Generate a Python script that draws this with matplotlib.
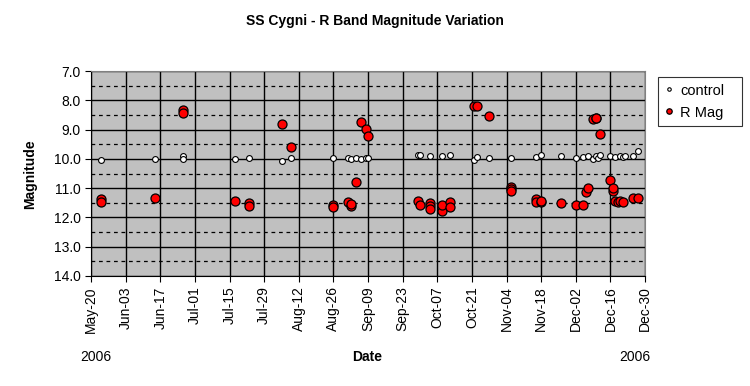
import numpy as np
import pandas as pd
import matplotlib
matplotlib.use("Agg")
from matplotlib import pyplot as plt
import matplotlib.dates as mdates
from matplotlib.ticker import MultipleLocator, FormatStrFormatter

plt.rcParams['font.family'] = ['Liberation Sans', 'DejaVu Sans']

# control star readings
control_dates = ["2006-05-24", "2006-06-15", "2006-06-26", "2006-06-26", "2006-07-17",
                 "2006-07-23", "2006-08-05", "2006-08-09", "2006-08-26", "2006-09-01",
                 "2006-09-02", "2006-09-04", "2006-09-06", "2006-09-08", "2006-09-09",
                 "2006-09-29", "2006-09-30", "2006-10-04", "2006-10-09", "2006-10-12",
                 "2006-10-22", "2006-10-23", "2006-10-28", "2006-11-06", "2006-11-16",
                 "2006-11-18", "2006-11-26", "2006-12-02", "2006-12-05", "2006-12-07",
                 "2006-12-09", "2006-12-10", "2006-12-11", "2006-12-12", "2006-12-16",
                 "2006-12-18", "2006-12-20", "2006-12-21", "2006-12-22", "2006-12-25",
                 "2006-12-27"]
control_mag = [10.03, 10.01, 9.91, 10.02, 9.99,
               9.96, 10.08, 9.98, 9.97, 9.98,
               10.00, 9.98, 10.02, 9.98, 9.98,
               9.86, 9.86, 9.89, 9.89, 9.86,
               10.03, 9.94, 9.96, 9.96, 9.92,
               9.86, 9.91, 9.97, 9.93, 9.89,
               10.01, 9.91, 9.98, 9.86, 9.89,
               9.93, 9.89, 9.93, 9.91, 9.89,
               9.74]

# SS Cyg R band readings
rmag_dates = ["2006-05-24", "2006-05-24", "2006-06-15", "2006-06-26", "2006-06-26",
              "2006-07-17", "2006-07-23", "2006-07-23", "2006-08-05", "2006-08-09",
              "2006-08-26", "2006-08-26", "2006-09-01", "2006-09-02", "2006-09-02",
              "2006-09-04", "2006-09-06", "2006-09-08", "2006-09-09", "2006-09-29",
              "2006-09-30", "2006-10-04", "2006-10-04", "2006-10-04", "2006-10-09",
              "2006-10-09", "2006-10-12", "2006-10-12", "2006-10-22", "2006-10-23",
              "2006-10-28", "2006-11-06", "2006-11-06", "2006-11-06", "2006-11-16",
              "2006-11-16", "2006-11-18", "2006-11-18", "2006-11-26", "2006-12-02",
              "2006-12-05", "2006-12-06", "2006-12-07", "2006-12-09", "2006-12-10",
              "2006-12-10", "2006-12-12", "2006-12-16", "2006-12-17", "2006-12-17",
              "2006-12-18", "2006-12-19", "2006-12-20", "2006-12-21", "2006-12-25",
              "2006-12-27"]
rmag_mag = [11.37, 11.49, 11.35, 8.34, 8.43,
            11.43, 11.52, 11.60, 8.80, 9.61,
            11.57, 11.64, 11.49, 11.60, 11.55,
            10.80, 8.74, 8.99, 9.23, 11.43,
            11.57, 11.51, 11.60, 11.72, 11.78,
            11.57, 11.46, 11.64, 8.20, 8.20,
            8.53, 10.97, 11.04, 11.11, 11.37,
            11.49, 11.49, 11.43, 11.52, 11.57,
            11.57, 11.12, 11.00, 8.65, 8.62,
            8.60, 9.14, 10.71, 11.11, 10.98,
            11.43, 11.48, 11.43, 11.47, 11.34,
            11.34]

start = pd.Timestamp("2006-05-20")
end = pd.Timestamp("2006-12-30")
tick_dates = pd.date_range(start, end, freq="14D")

fig = plt.figure(figsize=(7.5, 3.86), dpi=100)
ax = fig.add_axes([0.1215, 0.285, 0.7385, 0.531])
ax.set_facecolor("#C0C0C0")

ax.plot(pd.to_datetime(control_dates), control_mag, 'o', ms=4.2, mfc='white',
        mec='black', mew=0.8, label="control", zorder=3)
ax.plot(pd.to_datetime(rmag_dates), rmag_mag, 'o', ms=6.5, mfc='red',
        mec='black', mew=0.9, label="R Mag", zorder=4)

ax.set_xlim(start, end)
ax.set_ylim(14.0, 7.0)
ax.set_xticks(tick_dates)
ax.xaxis.set_major_formatter(mdates.DateFormatter("%b-%d"))
ax.yaxis.set_major_locator(MultipleLocator(1.0))
ax.yaxis.set_minor_locator(MultipleLocator(0.5))
ax.yaxis.set_major_formatter(FormatStrFormatter("%.1f"))

ax.grid(True, which='major', color='black', lw=1.0)
ax.grid(True, which='minor', axis='y', color='black', lw=0.9, ls=(0, (3, 3)))
ax.set_axisbelow(True)
ax.tick_params(axis='x', rotation=90, labelsize=10, direction='out', length=4, color='black')
ax.tick_params(axis='y', labelsize=10, direction='out', length=4)
ax.tick_params(axis='y', which='minor', length=0)
for s in ['top', 'right']:
    ax.spines[s].set_color('#808080')
for s in ['left', 'bottom']:
    ax.spines[s].set_color('black')

fig.text(0.5, 0.946, "SS Cygni - R Band Magnitude Variation", ha='center', va='center',
         fontsize=10, fontweight='bold')
fig.text(0.04, 0.55, "Magnitude", rotation=90, ha='center', va='center',
         fontsize=10, fontweight='bold')
fig.text(0.49, 0.075, "Date", ha='center', va='center', fontsize=10, fontweight='bold')
fig.text(0.107, 0.075, "2006", ha='left', va='center', fontsize=10)
fig.text(0.867, 0.075, "2006", ha='right', va='center', fontsize=10)

# legend box sits right of the plot, text left aligned with spare room on the right
leg = ax.legend(loc='upper left', bbox_to_anchor=(1.0235, 0.0, 0.1516, 0.971),
                mode='expand', frameon=True, fancybox=False, edgecolor='black',
                fontsize=10.5, handlelength=0.6, handletextpad=0.45, borderpad=0.45,
                labelspacing=0.55, markerscale=0.6, borderaxespad=0.0)
leg.get_frame().set_linewidth(0.8)

fig.savefig("out.png", dpi=100)
